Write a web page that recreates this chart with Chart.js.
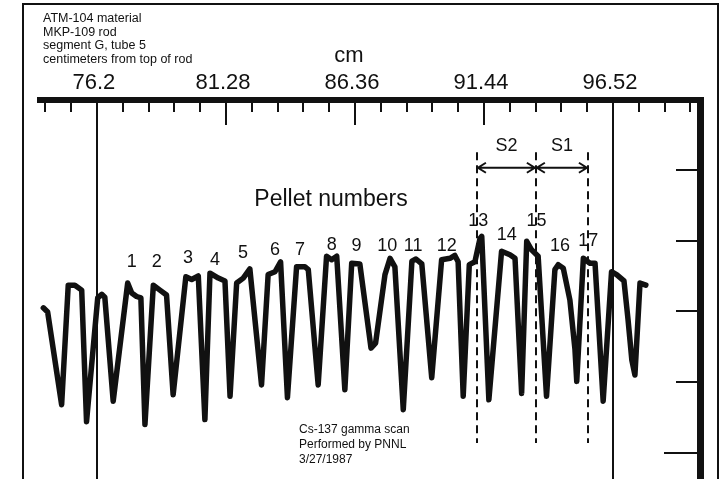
<!DOCTYPE html>
<html>
<head>
<meta charset="utf-8">
<script src="https://cdn.jsdelivr.net/npm/chart.js@4.4.1/dist/chart.umd.min.js"></script>
<style>
    html, body { margin: 0; padding: 0; background: #fff; }
    #wrap { width: 728px; height: 479px; }
</style>
</head>
<body>
<div id="wrap"><canvas id="chart" width="728" height="479"></canvas></div>
<script>
// gamma scan trace: position along rod (cm) and relative count level
const scanCm = [
    74.09, 74.26, 74.81, 75.07, 75.33, 75.60, 75.79, 76.23, 76.39, 76.51,
    76.84, 77.41, 77.57, 77.76, 77.93, 78.09, 78.42, 78.68, 78.94, 79.20,
    79.70, 79.93, 80.19, 80.45, 80.65, 80.98, 81.24, 81.44, 81.70, 81.96,
    82.22, 82.68, 82.94, 83.21, 83.43, 83.70, 84.06, 84.39, 84.52, 84.91,
    85.24, 85.44, 85.64, 85.96, 86.23, 86.55, 86.99, 87.17, 87.54, 87.74,
    87.93, 88.26, 88.60, 88.76, 88.99, 89.38, 89.77, 90.10, 90.29, 90.42,
    90.62, 90.86, 91.08, 91.28, 91.35, 91.63, 92.13, 92.46, 92.66, 92.92,
    93.12, 93.31, 93.57, 93.90, 94.23, 94.36, 94.56, 94.82, 95.02, 95.09,
    95.35, 95.61, 95.81, 96.13, 96.46, 96.66, 96.95, 97.11, 97.26, 97.38,
    97.58, 97.81
];
const scanCounts = [
    2.05, 1.99, 0.68, 2.37, 2.37, 2.30, 0.44, 2.19, 2.24, 2.20,
    0.73, 2.40, 2.26, 2.21, 2.19, 0.40, 2.37, 2.30, 2.23, 0.82,
    2.49, 2.45, 2.50, 0.47, 2.54, 2.47, 2.43, 0.80, 2.40, 2.47,
    2.60, 0.96, 2.52, 2.56, 2.70, 0.78, 2.63, 2.63, 2.59, 0.96,
    2.78, 2.73, 2.78, 0.89, 2.68, 2.67, 1.48, 1.55, 2.52, 2.75,
    2.63, 0.61, 2.71, 2.74, 2.67, 1.06, 2.73, 2.75, 2.79, 2.70,
    0.80, 2.66, 2.70, 3.03, 3.06, 0.75, 2.85, 2.80, 2.75, 0.84,
    2.99, 2.87, 2.78, 0.80, 2.59, 2.66, 2.61, 2.16, 1.46, 1.01,
    2.75, 2.68, 2.68, 0.73, 2.56, 2.52, 2.43, 1.88, 1.31, 1.10,
    2.40, 2.37
];

const cmTicks = [76.2, 81.28, 86.36, 91.44, 96.52];
const minorStep = 1.016;
const countTicks = [0, 1, 2, 3, 4];

const pelletNumbers = [1, 2, 3, 4, 5, 6, 7, 8, 9, 10, 11, 12, 13, 14, 15, 16, 17];
const pelletLabelCm = [77.57, 78.55, 79.79, 80.85, 81.95, 83.21, 84.19, 85.44, 86.42, 87.63, 88.65, 89.97, 91.21, 92.33, 93.51, 94.43, 95.54];
const pelletLabelLevel = [2.70, 2.70, 2.75, 2.73, 2.82, 2.87, 2.87, 2.94, 2.93, 2.93, 2.93, 2.93, 3.27, 3.08, 3.27, 2.92, 2.99];

const boundaryCm = [76.2, 96.52];
const sectionCuts = [91.16, 93.48, 95.53];
const sectionNames = ["S2", "S1"];

const notesTopLeft = ["ATM-104 material", "MKP-109 rod", "segment G, tube 5", "centimeters from top of rod"];
const notesBottom = ["Cs-137 gamma scan", "Performed by PNNL", "3/27/1987"];

const FONT = "'Liberation Sans', Arial, Helvetica, sans-serif";
const INK = "#111";

function drawArrow(ctx, x1, x2, y) {
    const h = 8;
    ctx.beginPath();
    ctx.moveTo(x1, y);
    ctx.lineTo(x2, y);
    ctx.moveTo(x1 + h, y - 5);
    ctx.lineTo(x1, y);
    ctx.lineTo(x1 + h, y + 5);
    ctx.moveTo(x2 - h, y - 5);
    ctx.lineTo(x2, y);
    ctx.lineTo(x2 - h, y + 5);
    ctx.stroke();
}

const rulerPlugin = {
    id: "ruler",
    beforeDatasetsDraw(chart) {
        const { ctx, chartArea: a, scales: { x, y } } = chart;
        ctx.save();
        ctx.strokeStyle = INK;

        // solid boundary lines
        ctx.lineWidth = 2;
        boundaryCm.forEach(v => {
            const px = Math.round(x.getPixelForValue(v));
            ctx.beginPath();
            ctx.moveTo(px, a.top);
            ctx.lineTo(px, a.bottom);
            ctx.stroke();
        });

        // section cut lines
        ctx.setLineDash([8, 5]);
        sectionCuts.forEach(v => {
            const px = Math.round(x.getPixelForValue(v));
            ctx.beginPath();
            ctx.moveTo(px, y.getPixelForValue(4.25));
            ctx.lineTo(px, y.getPixelForValue(0.14));
            ctx.stroke();
        });
        ctx.setLineDash([]);
        ctx.restore();
    },
    afterDraw(chart) {
        const { ctx, chartArea: a, scales: { x, y } } = chart;
        ctx.save();
        ctx.strokeStyle = INK;
        ctx.fillStyle = INK;

        // outer frame
        ctx.lineWidth = 2;
        ctx.strokeRect(23, 4, 695, 490);

        // top ruler bar and right bar
        ctx.fillRect(a.left, a.top, a.right - a.left, 6);
        ctx.fillRect(a.right - 7, a.top, 7, a.bottom - a.top);

        // minor + major ticks along the cm ruler
        ctx.lineWidth = 2;
        for (let k = -2; k <= 23; k++) {
            const v = cmTicks[0] + k * minorStep;
            if (v > x.max) break;
            const px = Math.round(x.getPixelForValue(v));
            const major = k % 5 === 0;
            ctx.beginPath();
            ctx.moveTo(px, a.top + 4);
            ctx.lineTo(px, a.top + (major ? 28 : 15));
            ctx.stroke();
        }

        ctx.font = "22px " + FONT;
        ctx.textAlign = "center";
        ctx.textBaseline = "middle";
        cmTicks.forEach(v => {
            ctx.fillText(String(v), x.getPixelForValue(v) - 3, a.top - 14);
        });
        ctx.fillText("cm", 349, 56);

        // right count axis ticks
        countTicks.forEach(v => {
            const py = Math.round(y.getPixelForValue(v));
            ctx.beginPath();
            ctx.moveTo(a.right - 7, py);
            ctx.lineTo(a.right - (v === 0 ? 40 : 28), py);
            ctx.stroke();
        });

        // pellet labels
        ctx.font = "23px " + FONT;
        ctx.fillText("Pellet numbers", 331, 200);
        ctx.font = "18px " + FONT;
        pelletNumbers.forEach((n, i) => {
            ctx.fillText(String(n), x.getPixelForValue(pelletLabelCm[i]), y.getPixelForValue(pelletLabelLevel[i]));
        });

        // section spans
        ctx.lineWidth = 2;
        const ay = y.getPixelForValue(4.03);
        for (let i = 0; i < sectionNames.length; i++) {
            const x1 = x.getPixelForValue(sectionCuts[i]);
            const x2 = x.getPixelForValue(sectionCuts[i + 1]);
            drawArrow(ctx, x1 + 1, x2 - 1, ay);
            ctx.fillText(sectionNames[i], (x1 + x2) / 2, y.getPixelForValue(4.33));
        }

        // notes
        ctx.font = "12.5px " + FONT;
        ctx.textAlign = "left";
        notesTopLeft.forEach((t, i) => ctx.fillText(t, 43, 19 + i * 13.4));
        ctx.font = "12px " + FONT;
        notesBottom.forEach((t, i) => ctx.fillText(t, 299, 430 + i * 15));

        ctx.restore();
    }
};

new Chart(document.getElementById("chart"), {
    type: "line",
    data: {
        datasets: [{
            data: scanCm.map((v, i) => ({ x: v, y: scanCounts[i] })),
            borderColor: INK,
            borderWidth: 5.5,
            borderJoinStyle: "round",
            borderCapStyle: "round",
            pointRadius: 0,
            tension: 0,
            fill: false
        }]
    },
    options: {
        responsive: false,
        animation: false,
        devicePixelRatio: 1,
        layout: { padding: { left: 37, right: 24, top: 97, bottom: 0 } },
        plugins: { legend: { display: false }, tooltip: { enabled: false } },
        scales: {
            x: { type: "linear", display: false, min: 73.84, max: 100.1 },
            y: { type: "linear", display: false, min: -0.37, max: 5.03 }
        }
    },
    plugins: [rulerPlugin]
});
</script>
</body>
</html>
